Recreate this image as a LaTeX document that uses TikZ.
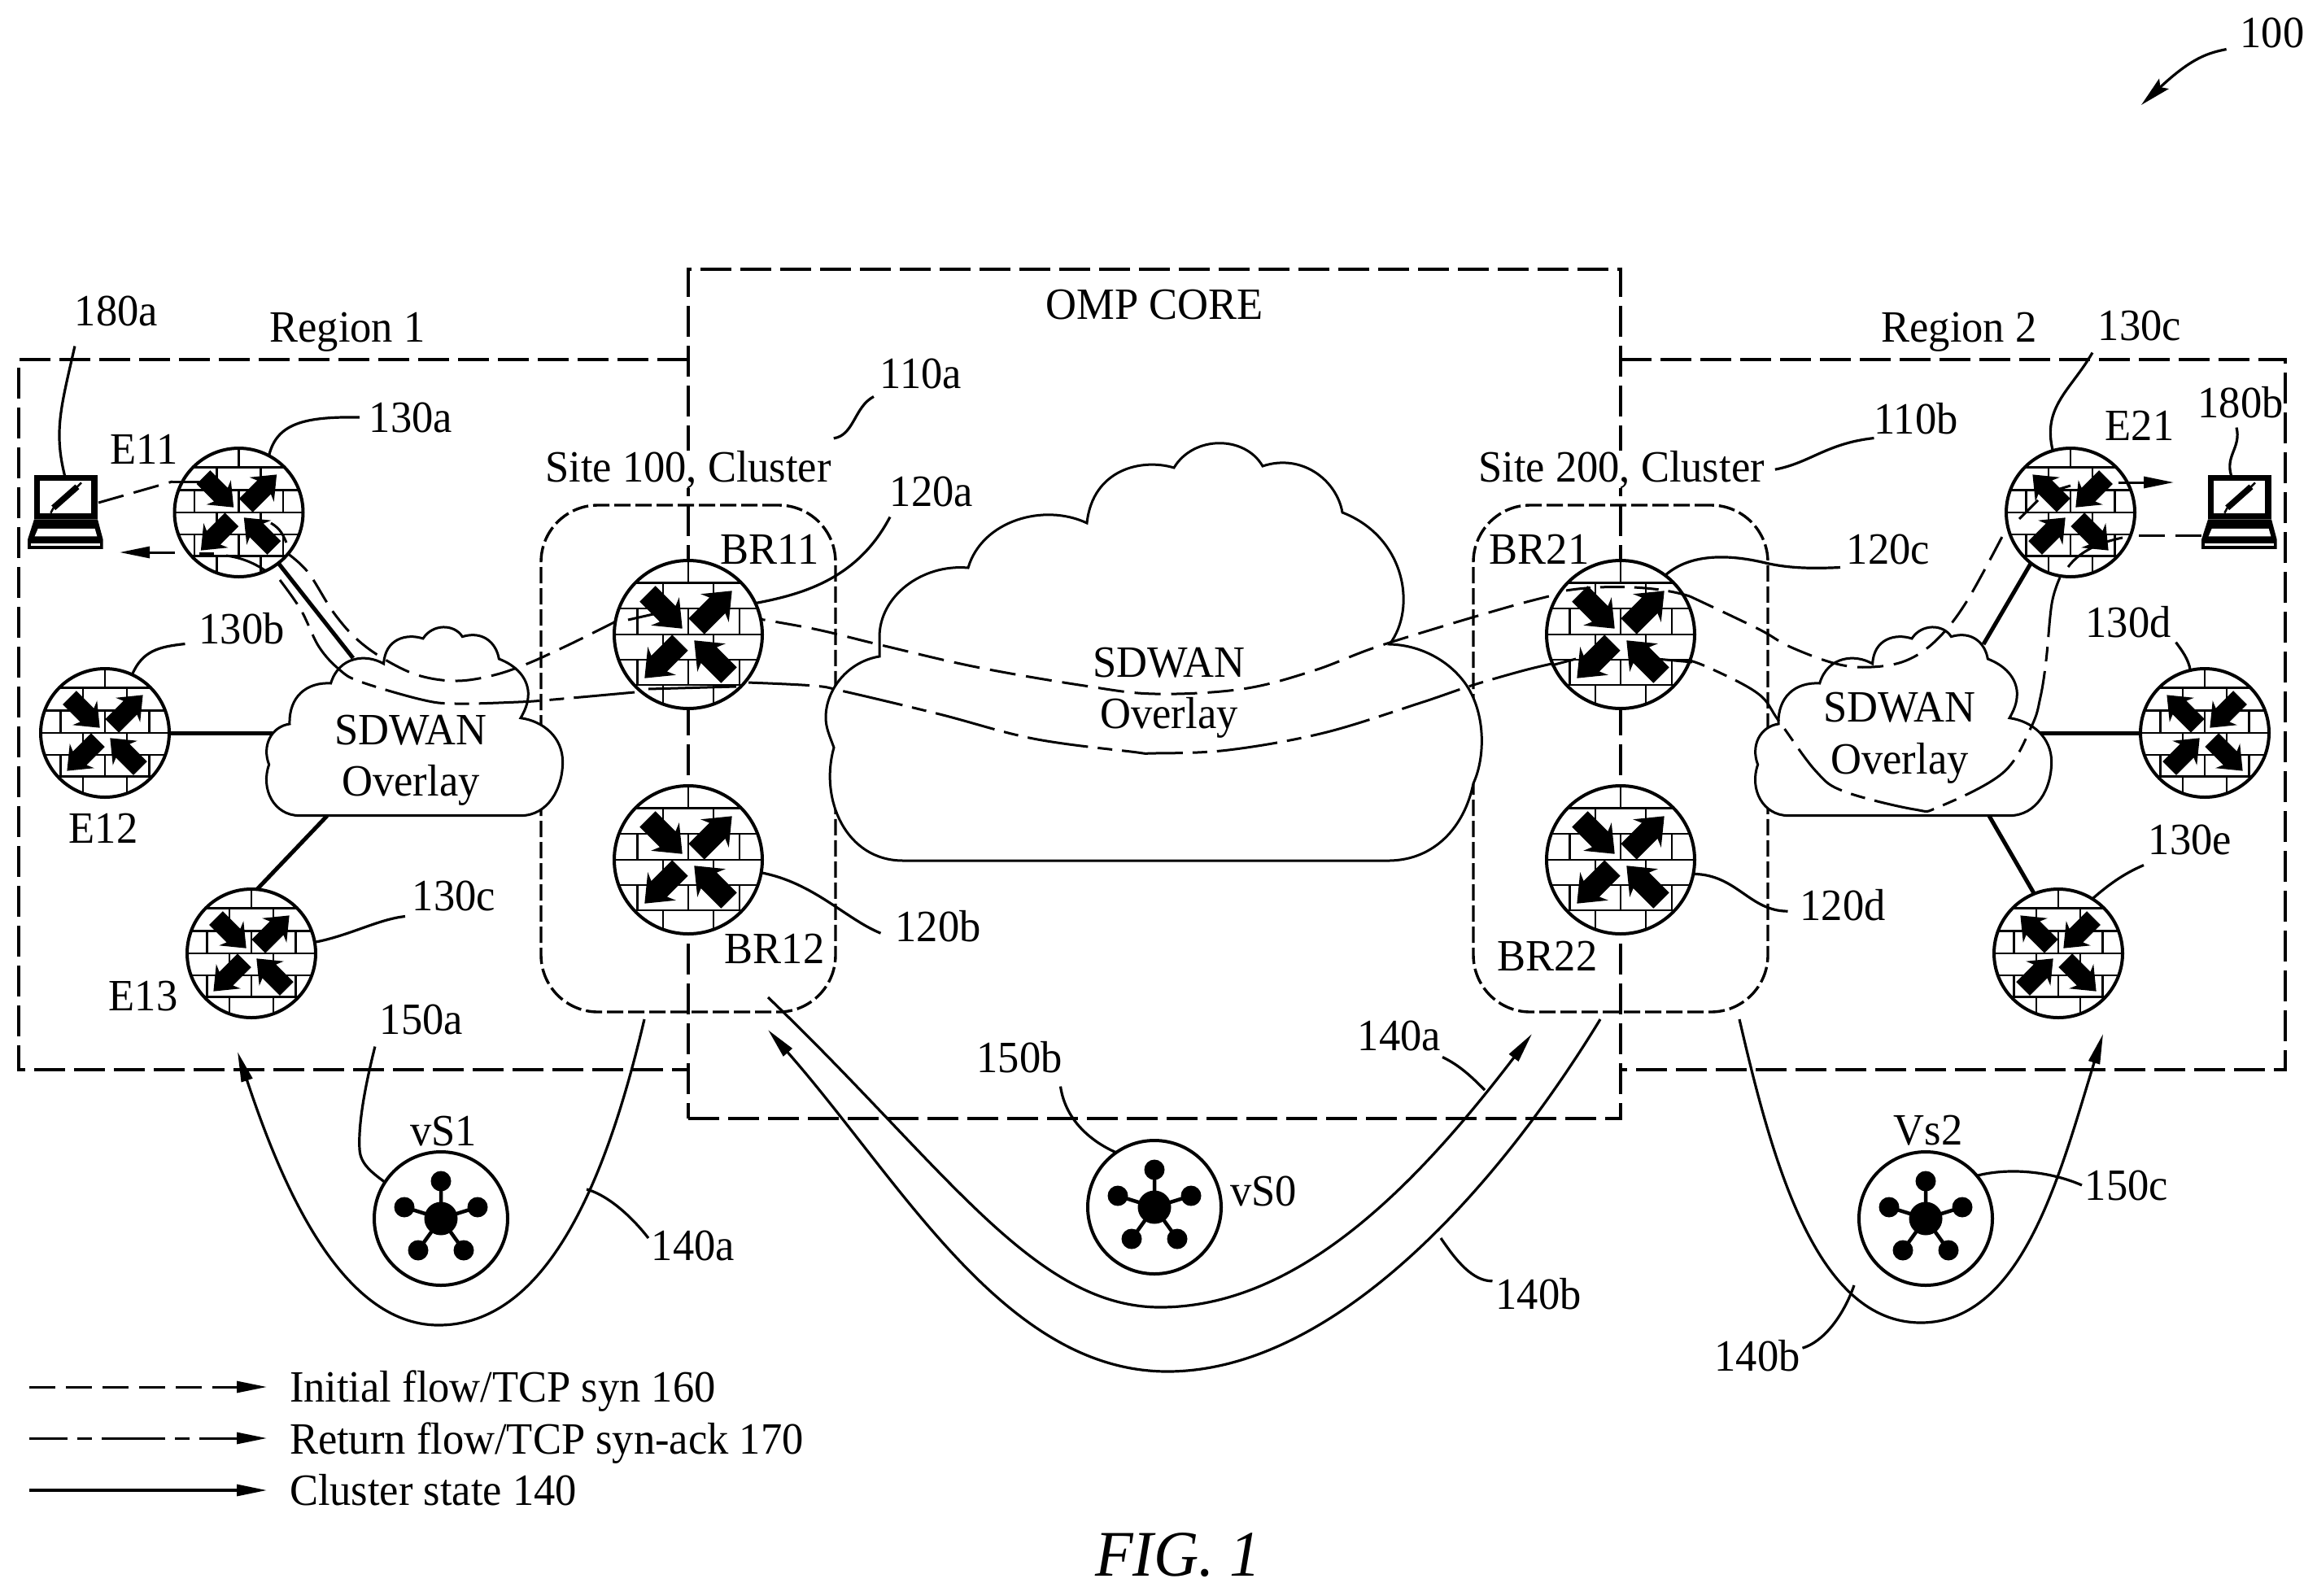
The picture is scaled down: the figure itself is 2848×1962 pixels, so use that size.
\documentclass[tikz,border=0pt]{standalone}
\usepackage{fontspec}
\setmainfont[FakeStretch=0.955]{Liberation Serif}
\usetikzlibrary{arrows.meta,calc}
\pgfdeclarelayer{boxes}\pgfdeclarelayer{clouds}\pgfdeclarelayer{flows}\pgfdeclarelayer{routers}
\pgfsetlayers{boxes,clouds,flows,routers,main}
\tikzset{
  lbl/.style={anchor=base,inner sep=0pt,outer sep=0pt,font=\fontsize{55}{60}\selectfont},
  boxd/.style={line width=3.6pt,dash pattern=on 38pt off 11pt},
  clusterd/.style={draw,rectangle,rounded corners=70pt,fill=none,line width=3.4pt,dash pattern=on 20pt off 6pt,inner sep=0pt,outer sep=0pt},
  cloudp/.style={draw,fill=white,line width=3pt,line join=miter},
  routerc/.style={circle,draw,fill=white,line width=4pt,inner sep=0pt,outer sep=0pt},
  brick/.style={line width=2.6pt},
  lead/.style={line width=3.2pt},
  link/.style={line width=5pt},
  state/.style={line width=3.2pt},
  initf/.style={line width=3pt,dash pattern=on 32pt off 13pt},
  retf/.style={line width=3pt,dash pattern=on 75pt off 12pt on 18pt off 12pt},
  inner/.style={line width=3pt},
  tip/.style={-{Stealth[length=37pt,width=14pt,inset=0pt]}},
}
\newcommand{\brickset}{%
  \draw[brick] (-1,-.7)--(1,-.7) (-1,-.35)--(1,-.35) (-1,0)--(1,0) (-1,.34)--(1,.34) (-1,.68)--(1,.68);
  \draw[brick] (0,-1)--(0,-.7) (-.34,-.7)--(-.34,-.35) (.34,-.7)--(.34,-.35)
    (-.69,-.35)--(-.69,0) (0,-.35)--(0,0) (.69,-.35)--(.69,0)
    (-.34,0)--(-.34,.34) (.34,0)--(.34,.34)
    (-.69,.34)--(-.69,.68) (0,.34)--(0,.68) (.69,.34)--(.69,.68)
    (-.34,.68)--(-.34,1) (.34,.68)--(.34,1);
}
\newcommand{\inarrow}{\fill (-.444,-.656)--(-.172,-.384)--(-.123,-.503)--(-.08,-.08)--(-.503,-.123)--(-.384,-.172)--(-.656,-.444)--cycle;}
\newcommand{\outarrow}{\fill (-.004,-.216)--(-.287,-.499)--(-.167,-.547)--(-.59,-.59)--(-.547,-.167)--(-.499,-.287)--(-.216,-.004)--cycle;}
% name, x, y, radius, flip
\newcommand{\routernode}[5]{%
  \begin{pgfonlayer}{routers}
  \node[routerc,minimum size=#4*2pt] (#1) at (#2,#3) {};
  \begin{scope}[shift={(#2,#3)},x=#4pt,y=-#4pt,xscale=#5]
    \begin{scope}
      \clip (0,0) circle (1);
      \brickset
    \end{scope}
    \inarrow
    \begin{scope}[xscale=-1,yscale=-1]\inarrow\end{scope}
    \begin{scope}[xscale=-1]\outarrow\end{scope}
    \begin{scope}[yscale=-1]\outarrow\end{scope}
  \end{scope}
  \end{pgfonlayer}
}
\newcommand{\vsnode}[3]{%
  \node[routerc,minimum size=164pt] (#1) at (#2,#3) {};
  \begin{scope}[shift={(#2,#3)}]
    \draw[line width=4.5pt] (0,0)--(0,-46) (0,0)--(-45,-14) (0,0)--(45,-14) (0,0)--(-28,39) (0,0)--(28,39);
    \fill (0,0) circle (20.5) (0,-46) circle (12.5) (-45,-14) circle (12.5) (45,-14) circle (12.5) (-28,39) circle (12.5) (28,39) circle (12.5);
  \end{scope}
}
\newcommand{\laptopicon}[2]{%
  \begin{scope}[shift={(#1,#2)},x=.3333pt,y=-.3333pt]
    \fill (36,42) rectangle (270,205);
    \fill[white] (57,62) rectangle (247,183);
    \draw[line width=7.5pt] (107,163)--(195,85);
    \draw[line width=2.5pt] (97,182)--(107,163) (195,85)--(210,70);
    \fill (36,205)--(270,205)--(290,280)--(290,315)--(12,315)--(12,280)--cycle;
    \fill[white] (50,240)--(260,240)--(268,268)--(38,268)--cycle;
    \fill[white] (24,293) rectangle (280,303);
  \end{scope}
}
\newcommand{\smallcloud}[2]{%
  \begin{scope}[shift={(#1,#2)},x=.3333pt,y=-.3333pt]
    \path[cloudp] (175,788) -- (990,788) .. controls (1090,788) and (1145,690) .. (1145,590)
      .. controls (1145,500) and (1075,440) .. (990,428) .. controls (1015,385) and (1018,360) .. (1018,335)
      .. controls (1015,280) and (975,235) .. (910,210) .. controls (900,150) and (850,105) .. (775,128)
      .. controls (745,80) and (665,80) .. (630,135) .. controls (570,115) and (490,135) .. (485,228)
      .. controls (420,190) and (320,200) .. (290,300) .. controls (200,295) and (135,350) .. (138,450)
      .. controls (70,460) and (35,530) .. (62,600) .. controls (30,690) and (80,788) .. (175,788) -- cycle;
  \end{scope}
}
\begin{document}
\begin{tikzpicture}[x=1pt,y=-1pt]
\begin{pgfonlayer}{boxes}
\path[fill=white] (0,0) rectangle (2848,1962);
\end{pgfonlayer}
\path[use as bounding box] (0,0) rectangle (2848,1962);

% ---------- routers
\routernode{E11}{293.5}{630}{79}{1}
\routernode{E12}{129}{901}{79}{1}
\routernode{E13}{309}{1172}{79}{1}
\routernode{BR11}{846}{780}{91}{1}
\routernode{BR12}{846}{1057}{91}{1}
\routernode{BR21}{1992}{780}{91}{1}
\routernode{BR22}{1992}{1057}{91}{1}
\routernode{E21}{2545}{630}{79}{-1}
\routernode{E22}{2710}{901}{79}{-1}
\routernode{E23}{2530}{1172}{79}{-1}

% ---------- dashed boundaries
\begin{pgfonlayer}{boxes}
  \node[draw,rectangle,boxd,inner sep=0pt,outer sep=0pt,minimum width=1146pt,minimum height=1044pt] (CORE) at (1419,853) {};
  \coordinate (RLa) at (CORE.west |- 0,442);
  \coordinate (RLb) at (CORE.west |- 0,1315);
  \coordinate (RRa) at (CORE.east |- 0,442);
  \coordinate (RRb) at (CORE.east |- 0,1315);
  \draw[boxd] (RLa) -- (23,442) -- (23,1315) -- (RLb);
  \draw[boxd] (RRa) -- (2809,442) -- (2809,1315) -- (RRb);
  \node[clusterd,minimum width=362pt,minimum height=623pt] (CL1) at (846,932.5) {};
  \node[clusterd,minimum width=362pt,minimum height=623pt] (CL2) at (1992,932.5) {};
\end{pgfonlayer}

% ---------- clouds and their links
\begin{pgfonlayer}{clouds}
  \coordinate (ClAn) at (434,809);
  \coordinate (ClAw) at (335,901);
  \coordinate (ClAs) at (402,1003);
  \coordinate (ClBn) at (2438,792);
  \coordinate (ClBe) at (2508,901);
  \coordinate (ClBs) at (2445,1003);
  \draw[link] (E11.-52) -- (ClAn);
  \draw[link] (E12.0) -- (ClAw);
  \draw[link] (E13.85) -- (ClAs);
  \draw[link] (E21.-128) -- (ClBn);
  \draw[link] (E22.180) -- (ClBe);
  \draw[link] (E23.112) -- (ClBs);
  \smallcloud{310}{740}
  \smallcloud{2140}{740}
  \path[cloudp] (1110,1058) -- (1708,1058) .. controls (1763,1057) and (1800,1017) .. (1811,963)
    .. controls (1825,933) and (1827,880) .. (1803,843) .. controls (1783,813) and (1747,793) .. (1708,792)
    .. controls (1742,747) and (1727,660) .. (1650,630) .. controls (1643,590) and (1600,557) .. (1552,573)
    .. controls (1530,535) and (1467,535) .. (1443,575) .. controls (1403,563) and (1343,577) .. (1336,643)
    .. controls (1283,618) and (1207,640) .. (1190,698) .. controls (1133,693) and (1081,733) .. (1081,783)
    -- (1081,807) .. controls (1043,813) and (1015,847) .. (1015,882) .. controls (1015,895) and (1020,905) .. (1025,919)
    .. controls (1007,983) and (1040,1058) .. (1110,1058) -- cycle;
\end{pgfonlayer}

% ---------- flows
\laptopicon{30}{570}
\laptopicon{2702}{570}
\node[rectangle,inner sep=0pt,outer sep=0pt,minimum width=93pt,minimum height=91pt] (LA) at (80.5,630) {};
\node[rectangle,inner sep=0pt,outer sep=0pt,minimum width=93pt,minimum height=91pt] (LB) at (2752.5,630) {};
\coordinate (TipA) at (147,679);
\coordinate (TipB) at (2672,593);
\begin{pgfonlayer}{flows}
  % initial flow
  \draw[initf] (121,618) -- (212,592);
  \draw[initf] plot[smooth,tension=.6] coordinates {(E11.-40) (379,704) (410,753) (440,787) (477,813) (517,831) (562,837) (607,830) (648,816) (690,797) (725,780) (BR11.170)};
  \draw[initf] plot[smooth,tension=.6] coordinates {(909,757) (1000,773) (1083,793) (1200,820) (1333,843) (1420,853) (1527,847) (1613,825) (1687,797) (1773,770) (1858,745) (1904,733)};
  \draw[initf] plot[smooth,tension=.6] coordinates {(2077,733) (2161,773) (2200,795) (2257,816) (2300,820) (2343,812) (2380,787) (2417,740) (2465,652)};
  % return flow
  \draw[initf] (LB.west |- 0,658) -- (2622,658);
  \draw[retf] plot[smooth,tension=.6] coordinates {(2532,710) (2522,742) (2515,812) (2508,857) (2497,893) (2462,950) (2383,992) (2353,995) (2267,973) (2232,948) (2187,887) (2160,852) (2094,818) (2060,808)};
  \draw[retf] plot[smooth,tension=.6] coordinates {(1907,816) (1870,825) (1808,843) (1743,865) (1627,901) (1510,922) (1420,926) (1390,924) (1270,908) (1155,878) (1038,850) (1000,843) (918,839)};
  \draw[retf] plot[smooth,tension=.6] coordinates {(780,851) (680,860) (637,863) (560,865) (518,860) (443,838) (417,823) (392,795) (370,750) (344,713)};
\end{pgfonlayer}
% visible pieces inside routers
\draw[inner] (212,592) -- (245,592);
\draw[inner] (333,643) .. controls (345,650) and (348,658) .. (352,667);
\draw[inner] (772,762) -- (803,755);
\draw[inner,dash pattern=on 30pt off 12pt] (1925,726) .. controls (1960,720) and (2030,718) .. (2077,733);
\draw[inner] (2482,638) -- (2505,615);
\draw[inner] (2525,603) -- (2545,597);
\draw[inner] (2609,661) .. controls (2575,668) and (2555,680) .. (2542,697);
\draw[inner] (2014,808) -- (2080,814);
\draw[inner] (1907,818) -- (1937,810);
\draw[inner] (905,844) -- (797,847);
\draw[inner] (245,680) -- (263,680);
\draw[inner] (278,683) .. controls (300,686) and (315,694) .. (327,702);
% arrow ends at the laptops
\draw[inner,tip] (E11.183 |- TipA) -- (TipA);
\draw[inner,tip] (E21.east |- TipB) ++(-20,0) -- (TipB);

% ---------- cluster state arcs
\draw[state,tip] ([shift={(-54pt,-9pt)}]CL1.south) .. controls (745,1453) and (672,1629) .. (539,1629) .. controls (418,1629) and (345,1453) .. (292,1293);
\draw[state,tip] (944,1226) .. controls (1162,1435) and (1271,1607) .. (1426,1607) .. controls (1598,1607) and (1744,1453) .. (1883,1271);
\draw[state,tip] ([shift={(-25pt,-9pt)}]CL2.south) .. controls (1834,1471) and (1635,1686) .. (1435,1686) .. controls (1235,1686) and (1108,1453) .. (944,1266);
\draw[state,tip] ([shift={(146pt,-9pt)}]CL2.south) .. controls (2180,1435) and (2234,1626) .. (2361,1626) .. controls (2488,1626) and (2534,1435) .. (2585,1271);

% ---------- server nodes
\vsnode{VS1}{542}{1498}
\vsnode{VS0}{1419}{1484}
\vsnode{VS2}{2367}{1498}

% ---------- labels
\node[lbl] (L100) at (2793,58) {100};
\node[lbl] (LOMP) at (1419,392) {OMP CORE};
\node[lbl] (LR1) at (427,420) {Region 1};
\node[lbl] (LR2) at (2408,420) {Region 2};
\node[lbl] (L180a) at (143,400) {180a};
\node[lbl] (L130a) at (505,531) {130a};
\node[lbl] (LE11) at (177,570) {E11};
\node[lbl,fill=white] (LS1) at (846,592) {Site 100, Cluster};
\node[lbl] (L110a) at (1132,477) {110a};
\node[lbl] (L120a) at (1145,622) {120a};
\node[lbl] (LBR11) at (946,693) {BR11};
\node[lbl] (L130b) at (297,791) {130b};
\node[lbl] (LE12) at (127,1036) {E12};
\node[lbl] (L130c) at (558,1119) {130c};
\node[lbl] (LE13) at (176,1242) {E13};
\node[lbl] (LBR12) at (952,1184) {BR12};
\node[lbl] (L120b) at (1153,1157) {120b};
\node[lbl] (L110b) at (2355,533) {110b};
\node[lbl,fill=white] (LS2) at (1993,592) {Site 200, Cluster};
\node[lbl] (L120c) at (2321,693) {120c};
\node[lbl] (LBR21) at (1892,693) {BR21};
\node[lbl] (L130cr) at (2630,418) {130c};
\node[lbl] (LE21) at (2630,541) {E21};
\node[lbl] (L180b) at (2754,513) {180b};
\node[lbl] (L130d) at (2616,783) {130d};
\node[lbl] (L130e) at (2692,1050) {130e};
\node[lbl] (L120d) at (2265,1131) {120d};
\node[lbl] (LBR22) at (1902,1193) {BR22};
\node[lbl] (L150a) at (518,1271) {150a};
\node[lbl] (LvS1) at (545,1408) {vS1};
\node[lbl] (L150b) at (1253,1318) {150b};
\node[lbl] (LvS0) at (1553,1482) {vS0};
\node[lbl] (L140ac) at (1720,1291) {140a};
\node[lbl] (LVs2) at (2370,1407) {Vs2};
\node[lbl] (L150c) at (2614,1475) {150c};
\node[lbl] (L140al) at (852,1549) {140a};
\node[lbl] (L140bc) at (1891,1609) {140b};
\node[lbl] (L140br) at (2160,1685) {140b};
\node[lbl] at (505,915) {SDWAN};
\node[lbl] at (505,978) {Overlay};
\node[lbl] at (1437,832) {SDWAN};
\node[lbl] at (1437,895) {Overlay};
\node[lbl] at (2335,887) {SDWAN};
\node[lbl] at (2335,951) {Overlay};
\node[lbl,anchor=base west] (LG1) at (356,1723) {Initial flow/TCP syn 160};
\node[lbl,anchor=base west] (LG2) at (356,1787) {Return flow/TCP syn-ack 170};
\node[lbl,anchor=base west] (LG3) at (356,1850) {Cluster state 140};
\node[lbl,font=\fontsize{80}{90}\itshape] (LFIG) at (1448,1937) {FIG. 1};

% ---------- legend lines
\coordinate (LGa) at (36,1705); \coordinate (LGb) at (36,1768); \coordinate (LGc) at (36,1832);
\draw[initf,tip] (LGa) -- (328,1705);
\draw[retf,dash pattern=on 47pt off 12pt on 18pt off 12pt on 78pt off 12pt on 18pt off 12pt,tip] (LGb) -- (328,1768);
\draw[state,tip] (LGc) -- (328,1832);

% ---------- reference leaders
\draw[lead,-{Stealth[length=38pt,width=17pt,inset=6pt]}] ([shift={(-17pt,-2pt)}]L100.south west) .. controls (2715,65) and (2695,70) .. (2632,129);
\draw[lead] ([yshift=-25pt]L180a.south west) .. controls (75,500) and (66,530) .. ([xshift=-1pt]LA.north);
\draw[lead] (E11.62) .. controls (340,520) and (375,512) .. ([xshift=-12pt]L130a.west);
\draw[lead] (E12.65) .. controls (175,800) and (195,795) .. ([xshift=-17pt]L130b.south west);
\draw[lead] (E13.10) .. controls (430,1150) and (465,1130) .. ([shift={(-9pt,-7pt)}]L130c.south west);
\draw[lead] (BR11.25) .. controls (990,730) and (1055,710) .. ([yshift=-13pt]L120a.south west);
\draw[lead] ([shift={(3pt,15pt)}]LS1.north east) .. controls (1050,535) and (1050,500) .. ([shift={(-8pt,-10pt)}]L110a.south west);
\draw[lead] (BR12.-10) .. controls (1000,1085) and (1040,1130) .. ([shift={(-18pt,-9pt)}]L120b.west);
\draw[lead] ([xshift=13pt]LS2.east) .. controls (2225,569) and (2245,545) .. ([yshift=-5pt]L110b.south west);
\draw[lead] (BR21.53) .. controls (2075,682) and (2120,680) .. (2170,692) .. controls (2200,699) and (2230,699) .. ([shift={(-8pt,-4pt)}]L120c.south west);
\draw[lead] ([shift={(-7pt,-15pt)}]L130cr.south west) .. controls (2545,480) and (2510,500) .. (E21.106);
\draw[lead] ([shift={(-5pt,-12pt)}]L180b.south) .. controls (2755,550) and (2735,560) .. ([xshift=-10pt]LB.north);
\draw[lead] ([shift={(6pt,-6pt)}]L130d.south east) .. controls (2682,800) and (2690,810) .. (E22.103);
\draw[lead] (E23.58) .. controls (2600,1080) and (2620,1070) .. ([shift={(-6pt,-13pt)}]L130e.south west);
\draw[lead] (BR22.-11) .. controls (2135,1075) and (2150,1120) .. ([shift={(-15pt,-8pt)}]L120d.west);
\draw[lead] ([shift={(-6pt,-15pt)}]L150a.south west) .. controls (450,1330) and (440,1380) .. (442,1413) .. controls (443,1430) and (455,1440) .. (VS1.147);
\draw[lead] ([shift={(-2pt,-17pt)}]L150b.south east) .. controls (1310,1380) and (1345,1405) .. (VS0.125);
\coordinate (arcBa) at (1825,1340);
\coordinate (arcBb) at (1771,1522);
\coordinate (arcA) at (721,1462);
\coordinate (arcC) at (2279,1580);
\draw[lead] ([shift={(2pt,-8pt)}]L140ac.south east) .. controls (1795,1310) and (1810,1325) .. (arcBa);
\draw[lead] (arcBb) .. controls (1790,1550) and (1810,1575) .. ([shift={(-4pt,-4pt)}]L140bc.north west);
\draw[lead] (VS2.40) .. controls (2470,1435) and (2520,1440) .. ([xshift=-4pt]L150c.west);
\draw[lead] (arcA) .. controls (750,1470) and (780,1500) .. ([shift={(-4pt,9pt)}]L140al.west);
\draw[lead] (arcC) .. controls (2265,1620) and (2240,1650) .. ([shift={(3pt,9pt)}]L140br.east);
\end{tikzpicture}
\end{document}
